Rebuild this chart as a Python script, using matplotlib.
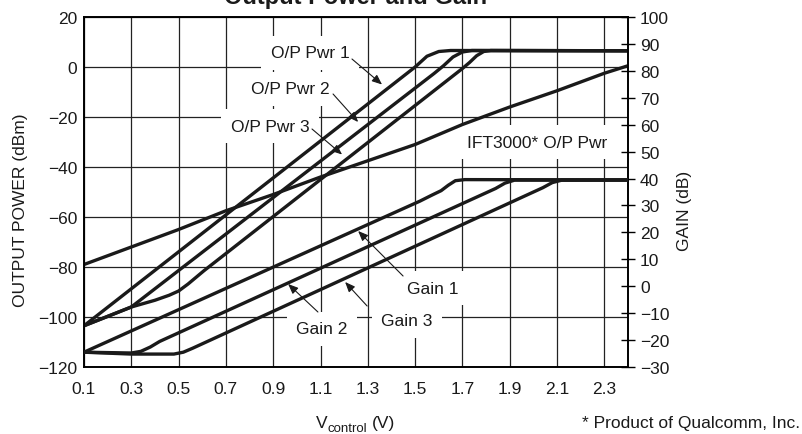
import matplotlib
matplotlib.use('Agg')
import matplotlib.pyplot as plt

# ---------------- data ----------------
x_ticks = [0.1, 0.3, 0.5, 0.7, 0.9, 1.1, 1.3, 1.5, 1.7, 1.9, 2.1, 2.3]
x_tick_labels = ["0.1", "0.3", "0.5", "0.7", "0.9", "1.1", "1.3", "1.5", "1.7", "1.9", "2.1", "2.3"]
power_ticks = [-120, -100, -80, -60, -40, -20, 0, 20]
gain_ticks = [-30, -20, -10, 0, 10, 20, 30, 40, 50, 60, 70, 80, 90, 100]

# output power curves (dBm, left axis)
v_pwr1 = [0.1, 1.5, 1.55, 1.6, 1.65, 2.4]
p_pwr1 = [-103.5, 0.0, 4.3, 6.2, 6.6, 6.5]

v_pwr2 = [0.1, 0.3, 1.58, 1.62, 1.66, 1.70, 1.74, 2.4]
p_pwr2 = [-103.5, -96.0, -2.6, 0.5, 4.0, 6.0, 6.6, 6.5]

v_pwr3 = [0.1, 0.3, 0.4, 0.46, 0.5, 0.54, 0.607, 1.70, 1.73, 1.76, 1.79, 1.82, 2.4]
p_pwr3 = [-103.5, -96.0, -93.3, -91.3, -89.6, -86.8, -81.5, -0.6, 1.8, 4.5, 6.2, 6.6, 6.5]

v_ift = [0.1, 0.3, 0.5, 0.7, 0.9, 1.1, 1.3, 1.5, 1.7, 1.9, 2.1, 2.3, 2.4]
p_ift = [-79, -72, -65, -57.5, -51, -44, -37.5, -31, -23, -16, -9.5, -2.5, 0.5]

# gain curves (dB, right axis)
v_gain1 = [0.1, 1.52, 1.57, 1.61, 1.64, 1.67, 1.71, 2.4]
g_gain1 = [-24.5, 31.6, 33.8, 35.5, 37.5, 39.2, 39.6, 39.5]

v_gain2 = [0.1, 0.3, 0.34, 0.38, 0.42, 1.84, 1.88, 1.92, 2.4]
g_gain2 = [-24.5, -24.8, -24.2, -22.6, -20.5, 36.3, 38.3, 39.4, 39.4]

v_gain3 = [0.1, 0.3, 0.48, 0.52, 0.56, 2.04, 2.08, 2.12, 2.4]
g_gain3 = [-24.5, -25.2, -25.2, -24.5, -23.0, 36.6, 38.5, 39.4, 39.5]

# ---------------- style ----------------
plt.rcParams['font.family'] = ['Liberation Sans', 'DejaVu Sans']
plt.rcParams['axes.unicode_minus'] = True
INK = '#1a1a1a'

W, H = 802, 435
fig = plt.figure(figsize=(W / 100, H / 100), dpi=100)
L, R, T, B = 84, 628, 18, 368
ax = fig.add_axes([L / W, 1 - B / H, (R - L) / W, (B - T) / H])
ax.set_xlim(0.1, 2.4)
ax.set_ylim(-120, 20)
ax.set_xticks(x_ticks)
ax.set_xticklabels(x_tick_labels)
ax.set_yticks(power_ticks)
ax.tick_params(axis='both', length=0, labelsize=12.5, labelcolor=INK)
ax.tick_params(axis='x', pad=10)
ax.tick_params(axis='y', pad=5)
ax.grid(True, color='#222222', lw=0.9, zorder=0.5)
ax.set_axisbelow(True)
for s in ax.spines.values():
    s.set_linewidth(1.2)

ax2 = ax.twinx()
ax2.set_ylim(-30, 100)
ax2.set_yticks(gain_ticks)
ax2.tick_params(axis='y', direction='inout', length=10, width=1.0, labelsize=12.5,
                labelcolor=INK, pad=3.6)
for s in ax2.spines.values():
    s.set_linewidth(1.2)

lkw = dict(color=INK, lw=2.4, solid_capstyle='round', solid_joinstyle='round', zorder=3)
ax.plot(v_pwr1, p_pwr1, **lkw)
ax.plot(v_pwr2, p_pwr2, **lkw)
ax.plot(v_pwr3, p_pwr3, **lkw)
ax.plot(v_ift, p_ift, **lkw)
ax2.plot(v_gain1, g_gain1, **lkw)
ax2.plot(v_gain2, g_gain2, **lkw)
ax2.plot(v_gain3, g_gain3, **lkw)

# labels with white boxes
box = dict(boxstyle='square,pad=0.55', fc='white', ec='none')
tkw = dict(fontsize=12.5, color=INK, ha='center', va='center', bbox=box, zorder=2)
ax.text(1.056, 5.6, "O/P Pwr 1", **tkw)
ax.text(0.971, -8.8, "O/P Pwr 2", **tkw)
ax.text(0.886, -23.6, "O/P Pwr 3", **tkw)
ax.text(2.015, -30.0, "IFT3000* O/P Pwr", **tkw)
ax.text(1.576, -88.4, "Gain 1", **tkw)
ax.text(1.106, -104.8, "Gain 2", **tkw)
ax.text(1.466, -101.6, "Gain 3", **tkw)

akw = dict(arrowstyle='-|>,head_length=0.6,head_width=0.25', color=INK, lw=0.8,
           shrinkA=0, shrinkB=0)
arrows = [((1.233, 3.2), (1.36, -7.0)),
          ((1.153, -10.8), (1.259, -22.0)),
          ((1.064, -24.8), (1.191, -35.0)),
          ((1.449, -83.6), (1.259, -65.6)),
          ((1.089, -98.0), (0.963, -86.8)),
          ((1.297, -95.6), (1.204, -86.0))]
for tail, tip in arrows:
    ax.annotate('', xy=tip, xytext=tail, arrowprops=akw, zorder=4)

# axis titles and notes
fig.text(356 / W, 1 - 4 / H, "Output Power and Gain", ha='center', va='baseline',
         fontsize=17, fontweight='bold', color=INK)
fig.text(21 / W, 1 - 210 / H, "OUTPUT POWER (dBm)", rotation=90, ha='center', va='center',
         fontsize=12.5, color=INK)
fig.text(685 / W, 1 - 211 / H, "GAIN (dB)", rotation=90, ha='center', va='center',
         fontsize=12.5, color=INK)
fig.text(328 / W, 1 - 428 / H, "V", ha='right', va='baseline', fontsize=12.5, color=INK)
fig.text(328 / W, 1 - 432 / H, "control", ha='left', va='baseline', fontsize=9.5, color=INK)
fig.text(395 / W, 1 - 428 / H, "(V)", ha='right', va='baseline', fontsize=12.5, color=INK)
fig.text(800 / W, 1 - 428 / H, "* Product of Qualcomm, Inc.", ha='right', va='baseline',
         fontsize=12.5, color=INK)

fig.savefig('out.png', dpi=100)
